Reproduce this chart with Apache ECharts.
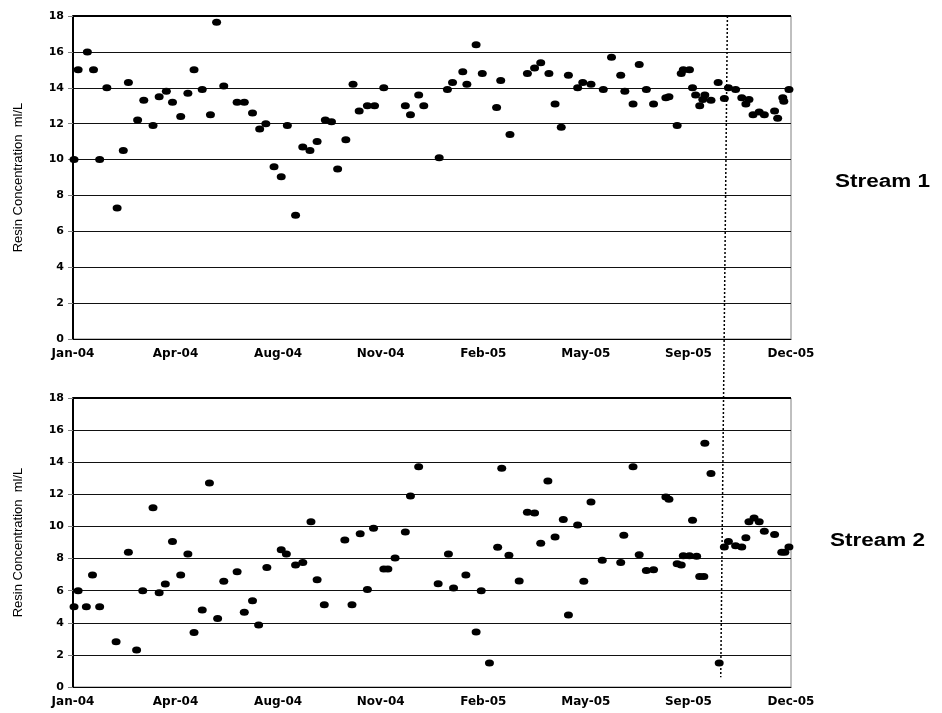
<!DOCTYPE html>
<html>
<head>
<meta charset="utf-8">
<script src="https://cdn.jsdelivr.net/npm/echarts@6/dist/echarts.min.js"></script>
<style>
  html, body { margin: 0; padding: 0; background: #fff; }
  #chart { width: 942px; height: 713px; }
</style>
</head>
<body>
<div id="chart"></div>
<script>
// x values: days counted from 14-Jan-2004 (axis spans 0..700 days)
const xTickLabels = ['Jan-04', 'Apr-04', 'Aug-04', 'Nov-04', 'Feb-05', 'May-05', 'Sep-05', 'Dec-05'];
const yTickStep = 2;

const stream1Days = [1, 5, 14, 20, 26, 33, 43, 49, 54, 63, 69, 78, 84, 91, 97, 105, 112, 118, 126, 134,
  140, 147, 160, 167, 175, 182, 188, 196, 203, 209, 217, 224, 231, 238, 246, 252, 258, 266, 273, 279,
  287, 294, 303, 324, 329, 337, 342, 357, 365, 370, 380, 384, 393, 399, 413, 417, 426, 443, 450, 456,
  464, 470, 476, 483, 492, 497, 505, 517, 525, 534, 538, 546, 552, 559, 566, 578, 581, 589, 593, 595,
  601, 604, 607, 611, 614, 616, 622, 629, 635, 639, 646, 652, 656, 659, 663, 669, 674, 684, 687, 692,
  693, 698];
const stream1Values = [10.0, 15.0, 16.0, 15.0, 10.0, 14.0, 7.3, 10.5, 14.3, 12.2, 13.3, 11.9, 13.5, 13.8, 13.2, 12.4, 13.7, 15.0, 13.9, 12.5,
  17.65, 14.1, 13.2, 13.2, 12.6, 11.7, 12.0, 9.6, 9.04, 11.9, 6.9, 10.7, 10.5, 11.0, 12.2, 12.1, 9.47, 11.1, 14.2, 12.7,
  13.0, 13.0, 14.0, 13.0, 12.5, 13.6, 13.0, 10.1, 13.9, 14.3, 14.9, 14.2, 16.4, 14.8, 12.9, 14.4, 11.4, 14.8, 15.1, 15.4,
  14.8, 13.1, 11.8, 14.7, 14.0, 14.3, 14.2, 13.9, 15.7, 14.7, 13.8, 13.1, 15.3, 13.9, 13.1, 13.45, 13.5, 11.9, 14.8, 15.0,
  15.0, 14.0, 13.6, 13.0, 13.35, 13.6, 13.3, 14.3, 13.4, 14.0, 13.9, 13.45, 13.1, 13.35, 12.5, 12.65, 12.5, 12.7, 12.3, 13.45,
  13.25, 13.9];

const stream2Days = [1, 5, 13, 19, 26, 42, 54, 62, 68, 78, 84, 90, 97, 105, 112, 118, 126, 133, 141, 147,
  160, 167, 175, 181, 189, 203, 208, 217, 224, 232, 238, 245, 265, 272, 280, 287, 293, 303, 307, 314,
  324, 329, 337, 356, 366, 371, 383, 393, 398, 406, 414, 418, 425, 435, 443, 450, 456, 463, 470, 478,
  483, 492, 498, 505, 516, 534, 537, 546, 552, 559, 566, 578, 581, 589, 593, 595, 601, 604, 608, 611,
  615, 616, 622, 630, 635, 639, 646, 652, 656, 659, 664, 669, 674, 684, 691, 694, 698];
const stream2Values = [5.0, 6.0, 5.0, 6.97, 5.0, 2.82, 8.4, 2.3, 6.0, 11.17, 5.87, 6.41, 9.07, 6.97, 8.28, 3.4, 4.8, 12.7, 4.27, 6.58,
  7.18, 4.65, 5.37, 3.86, 7.45, 8.55, 8.28, 7.6, 7.76, 10.3, 6.68, 5.13, 9.15, 5.13, 9.55, 6.08, 9.88, 7.35, 7.35, 8.03,
  9.65, 11.9, 13.72, 6.43, 8.28, 6.16, 6.97, 3.42, 6.0, 1.49, 8.7, 13.62, 8.2, 6.6, 10.88, 10.84, 8.95, 12.83, 9.34, 10.44,
  4.48, 10.09, 6.58, 11.52, 7.89, 7.76, 9.45, 13.72, 8.24, 7.26, 7.3, 11.83, 11.69, 7.68, 7.6, 8.18, 8.18, 10.38, 8.14, 6.89,
  6.89, 15.18, 13.29, 1.49, 8.72, 9.07, 8.8, 8.72, 9.3, 10.3, 10.52, 10.3, 9.7, 9.5, 8.4, 8.4, 8.72];

// dotted change-over marker: day at top of upper plot, day/value at its lower end in lower plot
const changeoverTopDay = 638;
const changeoverBottomDay = 631.5;
const changeoverBottomValue = 0.6;

const yAxisName = 'Resin Concentration  ml/L';
const streamLabels = ['Stream 1', 'Stream 2'];

const pair = (xs, ys) => xs.map((x, i) => [x, ys[i]]);

const chart = echarts.init(document.getElementById('chart'), null, { renderer: 'canvas' });

function xAxisCfg(gridIndex) {
  return {
    type: 'value', gridIndex, min: 0, max: 700, interval: 100,
    axisLine: { show: true, onZero: false, lineStyle: { color: '#000', width: 1 } },
    axisTick: { show: false },
    splitLine: { show: false },
    axisLabel: {
      showMinLabel: true, showMaxLabel: true, margin: 9,
      fontFamily: 'DejaVu Sans', fontWeight: 'bold', fontSize: 12, color: '#000',
      formatter: v => xTickLabels[Math.round(v / 100)] || ''
    }
  };
}
function yAxisCfg(gridIndex) {
  return {
    type: 'value', gridIndex, min: 0, max: 18, interval: yTickStep,
    name: yAxisName, nameLocation: 'middle', nameGap: 48, nameRotate: 90,
    nameTextStyle: { fontFamily: 'Liberation Sans', fontSize: 13, color: '#000' },
    axisLine: { show: true, lineStyle: { color: '#000', width: 2 } },
    axisTick: { show: true, inside: false, length: 5, lineStyle: { color: '#808080', width: 1 } },
    splitLine: { show: true, lineStyle: { color: '#111', width: 1 } },
    axisLabel: { margin: 9, fontFamily: 'DejaVu Sans', fontWeight: 'bold', fontSize: 11, color: '#000' }
  };
}
function seriesCfg(idx, data) {
  return {
    type: 'scatter', xAxisIndex: idx, yAxisIndex: idx, data,
    symbol: 'circle', symbolSize: [9, 7],
    itemStyle: { color: '#000', opacity: 1 },
    markLine: {
      silent: true, symbol: 'none', label: { show: false },
      lineStyle: { color: '#000', width: 2, type: 'solid' },
      data: [{ yAxis: 18 }]
    },
    z: 5
  };
}

chart.setOption({
  animation: false,
  backgroundColor: '#fff',
  grid: [
    { left: 73, top: 16, width: 718, height: 323, show: true, borderColor: '#808080', borderWidth: 1, backgroundColor: 'transparent' },
    { left: 73, top: 398, width: 718, height: 289, show: true, borderColor: '#808080', borderWidth: 1, backgroundColor: 'transparent' }
  ],
  xAxis: [xAxisCfg(0), xAxisCfg(1)],
  yAxis: [yAxisCfg(0), yAxisCfg(1)],
  series: [seriesCfg(0, pair(stream1Days, stream1Values)), seriesCfg(1, pair(stream2Days, stream2Values))]
});

const pTop = chart.convertToPixel({ gridIndex: 0 }, [changeoverTopDay, 18]);
const pBot = chart.convertToPixel({ gridIndex: 1 }, [changeoverBottomDay, changeoverBottomValue]);
const pS1 = chart.convertToPixel({ gridIndex: 0 }, [700, 9]);
const pS2 = chart.convertToPixel({ gridIndex: 1 }, [700, 9]);

chart.setOption({
  graphic: [
    { type: 'line', z: 10, silent: true,
      shape: { x1: pTop[0], y1: pTop[1], x2: pBot[0], y2: pBot[1] },
      style: { stroke: '#000', lineWidth: 1.5, lineDash: [2, 2] } },
    { type: 'text', x: pS1[0] + 44, y: pS1[1] + 5, scaleX: 1.25,
      style: { text: streamLabels[0], font: 'bold 18px "Liberation Sans"', fill: '#000', textVerticalAlign: 'middle' } },
    { type: 'text', x: pS2[0] + 39, y: pS2[1] - 1, scaleX: 1.25,
      style: { text: streamLabels[1], font: 'bold 18px "Liberation Sans"', fill: '#000', textVerticalAlign: 'middle' } }
  ]
});
</script>
</body>
</html>
